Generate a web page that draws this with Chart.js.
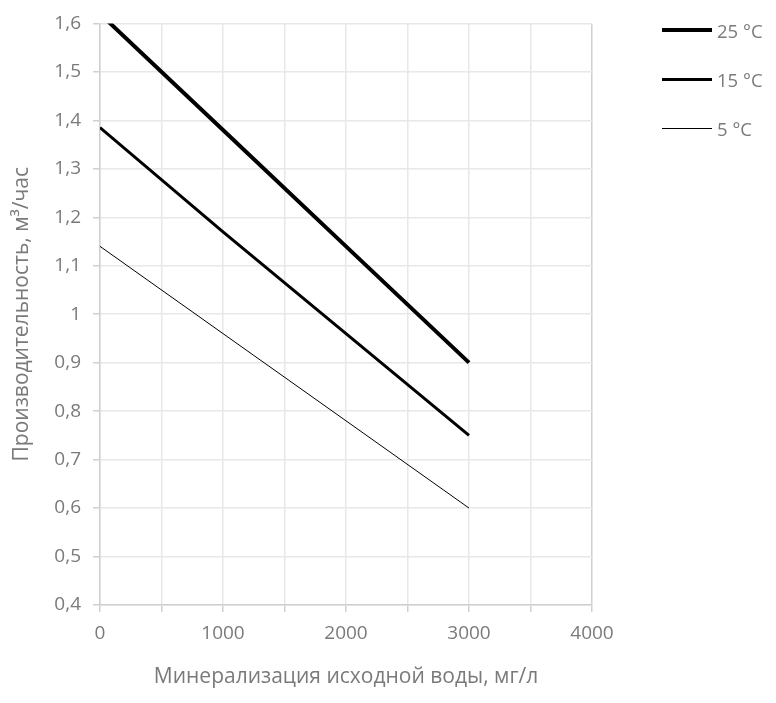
<!DOCTYPE html>
<html lang="ru">
<head>
    <meta charset="UTF-8">
    <title>Производительность</title>
    <script src="https://cdn.jsdelivr.net/npm/chart.js@4"></script>
    <style>
        html, body { margin: 0; padding: 0; background: #fff; }
        .wrap { position: relative; width: 776px; height: 703px; }
        #legend { position: absolute; left: 662px; top: 18px; font-family: "Open Sans", sans-serif; font-size: 18.5px; color: #7a7a7a; }
        #legend .item { display: flex; align-items: center; height: 24px; margin-bottom: 25px; }
        #legend .swatch { width: 50px; background: #000; margin-right: 5px; }
    </style>
</head>
<body>
<div class="wrap">
    <canvas id="chart" width="776" height="703"></canvas>
    <div id="legend"></div>
</div>
<script>
    // mineralization, mg/l
    const mineral = [0, 1000, 2000, 3000];
    // output, m3/h, per temperature
    const seriesNames = ['25 °C', '15 °C', '5 °C'];
    const t25 = [1.62, 1.38, 1.14, 0.90];
    const t15 = [1.385, 1.17, 0.96, 0.75];
    const t5 = [1.14, 0.96, 0.78, 0.60];
    const lineWidths = [4, 3, 1];

    const values = [t25, t15, t5];
    const gray = '#7a7a7a';

    const datasets = values.map((vals, i) => ({
        label: seriesNames[i],
        data: vals.map((v, j) => ({ x: mineral[j], y: v })),
        borderColor: '#000',
        backgroundColor: '#000',
        borderWidth: lineWidths[i],
        pointRadius: 0,
        tension: 0,
        clip: 0
    }));

    new Chart(document.getElementById('chart'), {
        type: 'line',
        data: { datasets: datasets },
        options: {
            responsive: false,
            animation: false,
            layout: { padding: { left: 0, right: 184, top: 22, bottom: 0 } },
            plugins: { legend: { display: false }, tooltip: { enabled: false } },
            scales: {
                x: {
                    type: 'linear',
                    min: 0,
                    max: 4000,
                    ticks: {
                        stepSize: 500,
                        color: gray,
                        font: { family: 'Open Sans', size: 19 },
                        padding: 10,
                        callback: v => (v % 1000 === 0 ? String(v) : '')
                    },
                    grid: {
                        color: ctx => (ctx.tick && ctx.tick.value === 4000 ? '#d0d0d0' : '#e8e8e8'),
                        tickColor: '#d0d0d0',
                        tickLength: 7,
                        lineWidth: 1.5
                    },
                    border: { color: '#d0d0d0', width: 1.5 },
                    title: {
                        display: true,
                        text: 'Минерализация исходной воды, мг/л',
                        color: gray,
                        font: { family: 'Open Sans', size: 21 },
                        padding: { top: 0, bottom: 13 }
                    },
                    afterFit: s => { s.height = 98; }
                },
                y: {
                    min: 0.4,
                    max: 1.6,
                    ticks: {
                        stepSize: 0.1,
                        color: gray,
                        font: { family: 'Open Sans', size: 19 },
                        padding: 12,
                        callback: v => String(Math.round(v * 10) / 10).replace('.', ',')
                    },
                    grid: {
                        color: '#e8e8e8',
                        tickColor: '#d0d0d0',
                        tickLength: 7,
                        lineWidth: 1.5
                    },
                    border: { color: '#d0d0d0', width: 1.5 },
                    title: {
                        display: true,
                        text: 'Производительность, м³/час',
                        color: gray,
                        font: { family: 'Open Sans', size: 21 },
                        padding: { top: 9, bottom: 0 }
                    },
                    afterFit: s => { s.width = 100; }
                }
            }
        }
    });

    // legend built from the same series
    const legend = document.getElementById('legend');
    seriesNames.forEach((name, i) => {
        const item = document.createElement('div');
        item.className = 'item';
        const sw = document.createElement('span');
        sw.className = 'swatch';
        sw.style.height = lineWidths[i] + 'px';
        const txt = document.createElement('span');
        txt.textContent = name;
        item.appendChild(sw);
        item.appendChild(txt);
        legend.appendChild(item);
    });
</script>
</body>
</html>
